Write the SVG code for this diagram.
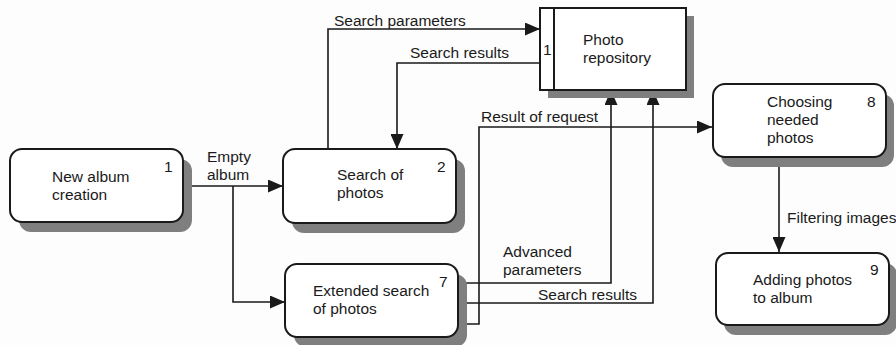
<svg xmlns="http://www.w3.org/2000/svg" width="896" height="345" viewBox="0 0 896 345">
<style>
text{font-family:"Liberation Sans",Arial,sans-serif;font-size:15.5px;fill:#1a1a1a}
.box{fill:#fff;stroke:#1a1a1a;stroke-width:2}
.sh{fill:#7f7f7f}
.c{fill:none;stroke:#1a1a1a;stroke-width:1.6}
</style>
<defs>
<marker id="a" viewBox="0 0 15 13" refX="15" refY="6.5" markerWidth="15" markerHeight="13" markerUnits="userSpaceOnUse" orient="auto">
<path d="M0,0 L15,6.5 L0,13 Z" fill="#1a1a1a"/>
</marker>
</defs>
<rect width="896" height="345" fill="#fdfdfd"/>
<g id="connectors">
<path class="c" d="M183,186 H283" marker-end="url(#a)"/>
<path class="c" d="M233,186 V302 H285" marker-end="url(#a)"/>
<path class="c" d="M328,149 V29 H540" marker-end="url(#a)"/>
<path class="c" d="M540,63 H397 V149" marker-end="url(#a)"/>
<path class="c" d="M458,324 H479 V127 H712" marker-end="url(#a)"/>
<path class="c" d="M458,283 H611 V90" marker-end="url(#a)"/>
<path class="c" d="M458,303 H653 V90" marker-end="url(#a)"/>
<path class="c" d="M779,157 V252" marker-end="url(#a)"/>
<text x="207" y="162">Empty<tspan x="207" dy="18">album</tspan></text>
<text x="334" y="26">Search parameters</text>
<text x="410" y="58">Search results</text>
<text x="481" y="122">Result of request</text>
<text x="503" y="257">Advanced<tspan x="503" dy="18">parameters</tspan></text>
<text x="538" y="300">Search results</text>
<text x="787" y="223">Filtering images</text>
</g>
<g id="node1">
<rect class="sh" x="19" y="159" width="173" height="73" rx="12"/>
<rect class="box" x="10" y="149" width="173" height="73" rx="12"/>
<text x="52" y="182">New album<tspan x="52" dy="18">creation</tspan></text>
<text x="164" y="172">1</text>
</g>
<g id="node2">
<rect class="sh" x="292" y="159" width="173" height="74" rx="12"/>
<rect class="box" x="283" y="149" width="173" height="74" rx="12"/>
<text x="337" y="180">Search of<tspan x="337" dy="18">photos</tspan></text>
<text x="437" y="172">2</text>
</g>
<g id="repo">
<rect class="sh" x="548" y="16" width="146" height="82"/>
<rect class="box" x="540" y="8" width="146" height="82"/>
<line x1="554" y1="8" x2="554" y2="90" stroke="#1a1a1a" stroke-width="2"/>
<text x="543" y="55">1</text>
<text x="583" y="45">Photo<tspan x="583" dy="18">repository</tspan></text>
</g>
<g id="node7">
<rect class="sh" x="294" y="274" width="173" height="73" rx="12"/>
<rect class="box" x="285" y="264" width="173" height="73" rx="12"/>
<text x="313" y="296">Extended search<tspan x="313" dy="18">of photos</tspan></text>
<text x="439" y="287">7</text>
</g>
<g id="node8">
<rect class="sh" x="721" y="94" width="173" height="73" rx="12"/>
<rect class="box" x="713" y="84" width="173" height="73" rx="12"/>
<text x="767" y="107">Choosing<tspan x="767" dy="18">needed</tspan><tspan x="767" dy="18">photos</tspan></text>
<text x="867" y="107">8</text>
</g>
<g id="node9">
<rect class="sh" x="724" y="263" width="173" height="72" rx="12"/>
<rect class="box" x="716" y="253" width="173" height="72" rx="12"/>
<text x="753" y="285">Adding photos<tspan x="753" dy="18">to album</tspan></text>
<text x="870" y="275">9</text>
</g>
</svg>
